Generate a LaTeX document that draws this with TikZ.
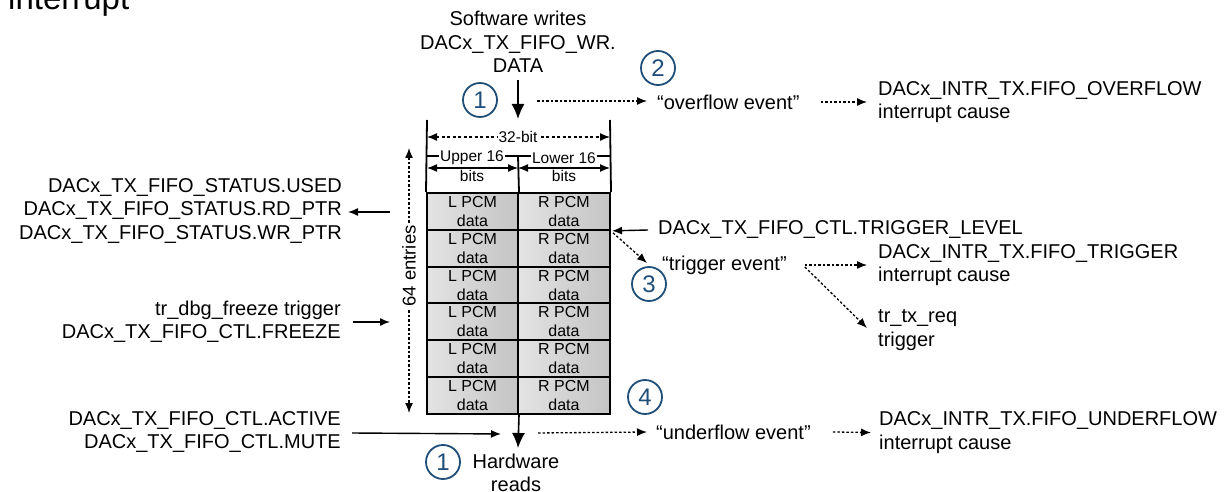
\documentclass[tikz,border=0pt]{standalone}
\usepackage{fontspec}
\setmainfont{Liberation Sans}
\usetikzlibrary{arrows.meta,calc}
\definecolor{numblue}{HTML}{1F4E79}
\begin{document}
\begin{tikzpicture}[x=1pt,y=-1pt,
  txt/.style={inner sep=0pt, font=\fontsize{20}{23.5}\selectfont},
  small/.style={inner sep=1pt, fill=white, font=\fontsize{15.5}{18.5}\selectfont},
  solidarrow/.style={line width=1.4pt, -{Latex[length=10pt,width=8pt]}},
  bigarrow/.style={line width=1.6pt, -{Latex[length=15pt,width=13pt]}},
  dimarrow/.style={line width=1.3pt, {Latex[length=10pt,width=8pt]}-{Latex[length=10pt,width=8pt]}},
  dotarrow/.style={line width=1.3pt, dash pattern=on 2.5pt off 2pt, -{Latex[length=10pt,width=8pt]}},
  num/.style={circle, draw=numblue, line width=1.8pt, minimum size=34pt, inner sep=0pt, text=numblue, font=\fontsize{24}{24}\selectfont},
  cell/.style={draw, line width=2pt, left color=black!11, right color=black!23, minimum height=36.83pt, inner sep=0pt, align=center, font=\fontsize{16}{19}\selectfont},
  edgeline/.style={line width=1.8pt}
]
\useasboundingbox (0,0) rectangle (1224,492);
\clip (0,0) rectangle (1224,492);

% heading, partly above the frame
\node[anchor=base west, inner sep=0pt, font=\fontsize{33}{33}\selectfont] (title) at (8,10) {interrupt};

% FIFO cells
\foreach \i in {1,...,6}{
  \node[cell, minimum width=91pt] (L\i) at (472.5,{193+36.83*(\i-0.5)}) {L PCM\\data};
  \node[cell, minimum width=92pt] (R\i) at (564,{193+36.83*(\i-0.5)}) {R PCM\\data};
}

% header of the FIFO
\coordinate (fifoTL) at (427,120);
\coordinate (fifoTR) at (610,120);
\coordinate (midtop) at (518,156);
\draw[edgeline] (fifoTL) -- (L1.north west);
\draw[edgeline] (fifoTR) -- (R1.north east);
\draw[edgeline] (midtop) -- (L1.north east);
\draw[line width=1.5pt] (427,156) -- (610,156);

% width dimensions
\draw[dimarrow, dash pattern=on 3pt off 2.5pt] (427,137) -- (610,137);
\node[small] (w32) at (518,137) {32-bit};
\draw[dimarrow] (427,168) -- (518,168);
\draw[dimarrow] (518,168) -- (610,168);
\node[small] (up) at (472,158) {Upper 16};
\node[small] (upb) at (472,176) {bits};
\node[small] (lo) at (564,158) {Lower 16};
\node[small] (lob) at (564,176) {bits};

% depth dimension
\coordinate (dtop) at (409,148);
\coordinate (dbot) at (409,413);
\draw[dimarrow, dash pattern=on 2.5pt off 2pt] (dtop) -- (dbot);
\node[inner sep=1pt, fill=white, rotate=90, font=\fontsize{18.5}{20}\selectfont] (depth) at (409,266) {64 entries};

% software write
\node[txt, align=center] (sw) at (518,42) {Software writes\\DACx\_TX\_FIFO\_WR.\\DATA};
\coordinate (wrstart) at (518,80);
\draw[bigarrow] (wrstart) -- (518,119);
\node[num] (n1a) at (480,100) {1};

% hardware read
\coordinate (rdend) at (518,448);
\draw[bigarrow] (L6.south east) -- (rdend);
\node[txt, align=center] (hw) at (516,473) {Hardware\\reads};
\node[num] (n1b) at (443,462) {1};

% overflow
\node[txt, anchor=west] (ovf) at (657,102) {“overflow event”};
\node[txt, anchor=west, align=left] (ovfint) at (878,102) {DACx\_INTR\_TX.FIFO\_OVERFLOW\\interrupt cause};
\node[num] (n2) at (658,68) {2};
\draw[dotarrow] ($(wrstart)+(19,21)$) -- ($(ovf.west)+(-10,-1)$);
\draw[dotarrow] ($(ovf.east)+(21,0)$) -- ($(ovfint.west)+(-11,0)$);

% status
\node[txt, anchor=east, align=right] (status) at (342,211) {DACx\_TX\_FIFO\_STATUS.USED\\DACx\_TX\_FIFO\_STATUS.RD\_PTR\\DACx\_TX\_FIFO\_STATUS.WR\_PTR};
\draw[solidarrow] ($(status.east)+(48,1)$) -- ($(status.east)+(6,1)$);

% freeze
\node[txt, anchor=east, align=right] (frz) at (341,321.5) {tr\_dbg\_freeze trigger\\DACx\_TX\_FIFO\_CTL.FREEZE};
\draw[solidarrow] ($(frz.east)+(12,0.5)$) -- ($(frz.east)+(49,0.5)$);

% active / mute
\node[txt, anchor=east, align=right] (act) at (341,432) {DACx\_TX\_FIFO\_CTL.ACTIVE\\DACx\_TX\_FIFO\_CTL.MUTE};
\draw[solidarrow] ($(act.east)+(11,1)$) -- ($(L6.south east)+(-18,19)$);

% trigger level
\node[txt, anchor=west] (tl) at (658,230) {DACx\_TX\_FIFO\_CTL.TRIGGER\_LEVEL};
\draw[solidarrow] ($(tl.west)+(-10,0)$) -- ($(R1.south east)+(1,0)$);

% trigger event
\node[txt, anchor=west] (trg) at (662,265) {“trigger event”};
\node[num] (n3) at (649,284) {3};
\node[txt, anchor=west, align=left] (trgint) at (878,265) {DACx\_INTR\_TX.FIFO\_TRIGGER\\interrupt cause};
\node[txt, anchor=west, align=left] (txreq) at (878,330) {tr\_tx\_req\\trigger};
\draw[dotarrow] ($(R1.south east)+(2,2)$) -- ($(trg.west)+(-15,-2)$);
\draw[dotarrow] ($(trg.east)+(18,0)$) -- ($(trgint.west)+(-11,0)$);
\draw[dotarrow] ($(trg.east)+(18,2)$) -- ($(txreq.west)+(-11,-2)$);

% underflow
\node[txt, anchor=west] (udf) at (656,432) {“underflow event”};
\node[txt, anchor=west, align=left] (udfint) at (879,432.5) {DACx\_INTR\_TX.FIFO\_UNDERFLOW\\interrupt cause};
\node[num] (n4) at (645,397) {4};
\draw[dotarrow] ($(L6.south east)+(19,18)$) -- ($(udf.west)+(-9,0)$);
\draw[dotarrow] ($(udf.east)+(22,0)$) -- ($(udfint.west)+(-8,0)$);
\end{tikzpicture}
\end{document}
